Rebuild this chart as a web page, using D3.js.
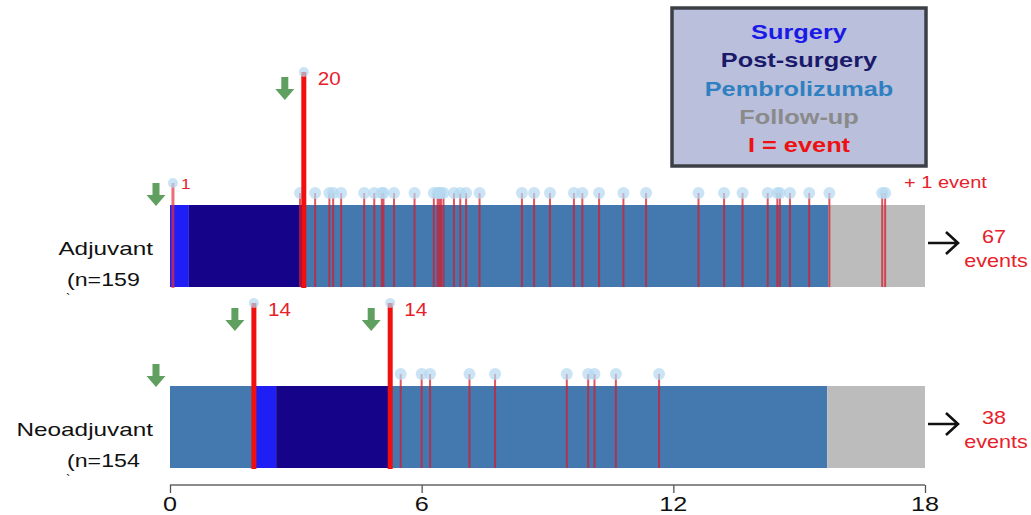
<!DOCTYPE html>
<html>
<head>
<meta charset="utf-8">
<script src="https://cdn.jsdelivr.net/npm/d3@7"></script>
<style>
  body { margin: 0; background: #fff; }
  text { font-family: Arial, "Liberation Sans", sans-serif; }
</style>
</head>
<body>
<div id="root"></div>
<script>
// ---- data ----
const monthTicks = [0, 6, 12, 18];
const rows = ["Adjuvant", "Neoadjuvant"];
const rowN = ["(n=159", "(n=154"];
const totals = [67, 38];
const legendItems = ["Surgery", "Post-surgery", "Pembrolizumab", "Follow-up", "I = event"];

// [phase, start month, end month]
const adjPhases = [["Surgery", 0, 0.45], ["Post-surgery", 0.45, 3.19], ["Pembrolizumab", 3.19, 15.7], ["Follow-up", 15.7, 18]];
const neoPhases = [["Pembrolizumab", 0, 2.0], ["Surgery", 2.0, 2.53], ["Post-surgery", 2.53, 5.25],
  ["Pembrolizumab", 5.25, 15.67], ["Follow-up", 15.67, 18]];

// labelled event clusters: month, number of events
const adjBig = [{ m: 0.07, n: 1 }, { m: 3.19, n: 20 }];
const neoBig = [{ m: 2.0, n: 14 }, { m: 5.25, n: 14 }];

// single events (months)
const adjEvents = [3.1, 3.46, 3.8, 3.89, 4.08, 4.63, 4.87, 5.05, 5.09, 5.34, 5.83, 6.29, 6.38, 6.42, 6.46, 6.52,
  6.77, 6.92, 7.06, 7.38, 8.39, 8.68, 9.06, 9.63, 9.83, 10.23, 10.81, 11.35, 12.6, 13.21, 13.65, 14.25,
  14.48, 14.54, 14.78, 15.24, 15.72, 16.98, 17.05];
const neoEvents = [5.5, 6.0, 6.2, 7.14, 7.75, 9.46, 9.97, 10.12, 10.63, 11.66];

// ---- layout ----
const W = 1031, H = 515;
const SX = 1.28; // the source picture is stretched horizontally
const phaseColor = {
  "Surgery": "#1f1ff5",
  "Post-surgery": "#15048a",
  "Pembrolizumab": "#4479b0",
  "Follow-up": "#bcbcbc"
};
const legendColor = ["#1a1ae6", "#1a1a6a", "#2f80c0", "#8a8a8a", "#ee1111"];

const x = d3.scaleLinear().domain([0, 18]).range([170, 925]);
const y = d3.scaleBand().domain(rows).range([205, 468]).paddingInner(0.547);
const stem = d3.scaleLinear().domain([1, 14, 20]).range([22, 83, 133]);

const svg = d3.select('#root').append('svg')
  .attr('width', W).attr('height', H);

function txt(g, s, px, py, opts) {
  const sx = opts.sx || SX;
  return g.append('text')
    .attr('transform', `translate(${px},${py}) scale(${sx},1)`)
    .attr('text-anchor', opts.anchor || 'start')
    .attr('font-size', opts.size)
    .attr('font-weight', opts.bold ? 'bold' : 'normal')
    .attr('fill', opts.fill || '#111')
    .text(s);
}

function arrowDown(g, cx, top) {
  g.append('path')
    .attr('d', `M${cx - 3.5},${top} h7 v12 h6 l-9.5,11 l-9.5,-11 h6 z`)
    .attr('fill', '#5f9f5f');
}

const rowData = [
  { name: rows[0], n: rowN[0], total: totals[0], phases: adjPhases, big: adjBig, ev: adjEvents },
  { name: rows[1], n: rowN[1], total: totals[1], phases: neoPhases, big: neoBig, ev: neoEvents }
];

rowData.forEach(r => {
  const top = y(r.name), bot = top + y.bandwidth();
  const g = svg.append('g');

  // bar phases
  g.selectAll('rect.phase')
    .data(r.phases)
    .enter().append('rect')
    .attr('class', 'phase')
    .attr('x', d => x(d[1]))
    .attr('width', d => x(d[2]) - x(d[1]))
    .attr('y', top)
    .attr('height', y.bandwidth())
    .attr('fill', d => phaseColor[d[0]]);

  // single events
  g.selectAll('line.ev')
    .data(r.ev)
    .enter().append('line')
    .attr('x1', d => x(d)).attr('x2', d => x(d))
    .attr('y1', top - 12).attr('y2', bot)
    .attr('stroke', '#d41c2c').attr('stroke-opacity', 0.75).attr('stroke-width', 2);
  g.selectAll('circle.ev')
    .data(r.ev)
    .enter().append('circle')
    .attr('cx', d => x(d)).attr('cy', top - 12).attr('r', 6)
    .attr('fill', '#b4d9f1').attr('fill-opacity', 0.7);

  // labelled clusters
  r.big.forEach(b => {
    const t = top - stem(b.n);
    const big = b.n > 1;
    g.append('line')
      .attr('x1', x(b.m)).attr('x2', x(b.m))
      .attr('y1', t).attr('y2', bot + 1)
      .attr('stroke', big ? '#f01010' : '#e0303a')
      .attr('stroke-opacity', big ? 1 : 0.7)
      .attr('stroke-width', big ? 5 : 3);
    g.append('circle')
      .attr('cx', x(b.m)).attr('cy', t).attr('r', 5)
      .attr('fill', '#b4d9f1').attr('fill-opacity', 0.7);
    txt(g, b.n, x(b.m) + (big ? 14 : 8), t + (big ? 13 : 6), { size: big ? 18 : 15, fill: '#e8202a', sx: 1.15 });
    if (big) arrowDown(g, x(b.m) - 19, t + 5);
  });

  // start arrow
  arrowDown(g, x(0) - 14, top - 22);

  // row labels
  txt(g, r.name, 153, top + 50, { size: 19, anchor: 'end', sx: 1.28 });
  txt(g, r.n, 67, bot - 1, { size: 19, sx: 1.22 });
  txt(g, '`', 66, bot + 16, { size: 13, sx: 1 });

  // total arrow and count
  const cy = top + 38;
  g.append('path')
    .attr('d', `M${x(18) + 3},${cy} H958 M946,${cy - 11} L958,${cy} L946,${cy + 11}`)
    .attr('fill', 'none').attr('stroke', '#111').attr('stroke-width', 2.6);
  txt(g, r.total, 994, cy, { size: 18, anchor: 'middle', fill: '#e8202a', sx: 1.2 });
  txt(g, 'events', 996, cy + 24, { size: 18, anchor: 'middle', fill: '#e8202a', sx: 1.2 });
});

// extra event note
txt(svg, '+ 1 event', x(17.5), y(rows[0]) - 17, { size: 16, fill: '#e8202a', sx: 1.25 });

// x axis
const axisY = 485;
const axis = svg.append('g').attr('transform', `translate(0,${axisY})`)
  .call(d3.axisBottom(x).tickValues(monthTicks).tickSize(8).tickFormat(''));
axis.select('.domain').attr('stroke', '#666').attr('stroke-width', 1.5).attr('d', `M${x(0)},0H${x(18)}`);
axis.selectAll('.tick line').attr('stroke', '#555').attr('stroke-width', 1.3);
monthTicks.forEach(m => txt(svg, m, x(m), 511, { size: 21, anchor: 'middle', sx: 1.2 }));

// legend
const lg = svg.append('g');
lg.append('rect')
  .attr('x', 672).attr('y', 8).attr('width', 254).attr('height', 158)
  .attr('fill', '#babfdc').attr('stroke', '#3c4046').attr('stroke-width', 3.5);
legendItems.forEach((s, i) => {
  txt(lg, s, 799, 39 + i * 28.3, { size: 19.5, bold: true, anchor: 'middle', fill: legendColor[i], sx: 1.3 });
});
</script>
</body>
</html>
